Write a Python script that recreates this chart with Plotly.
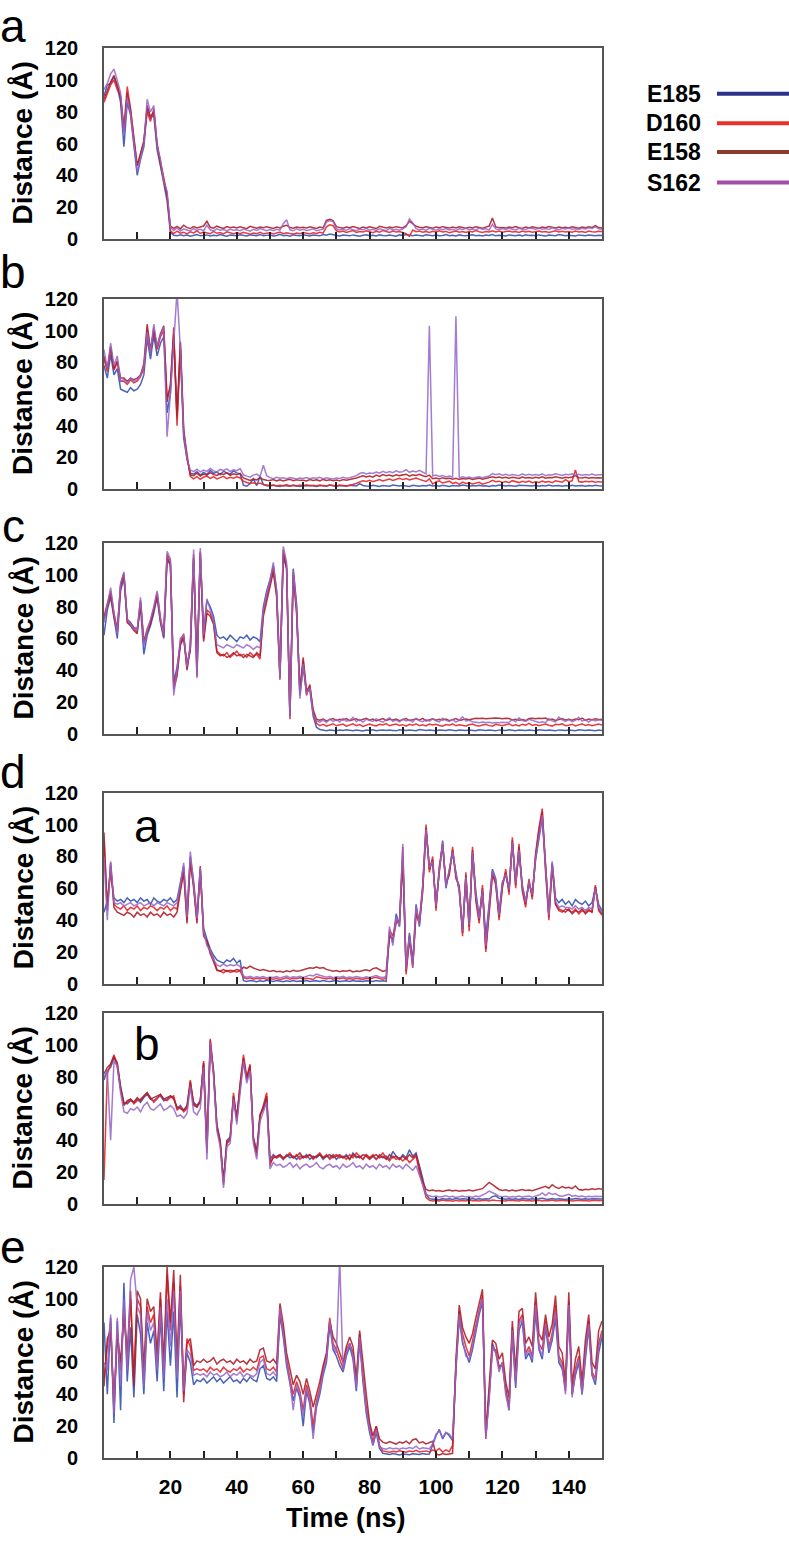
import plotly.graph_objects as go

W, H = 789, 1543

# ---------------- data ----------------
time_ns = list(range(151))
series_names = ["E185", "D160", "E158", "S162"]
y_tick_vals = [0, 20, 40, 60, 80, 100, 120]
x_tick_vals = [10, 20, 30, 40, 50, 60, 70, 80, 90, 100, 110, 120, 130, 140]
x_tick_text = ["", "20", "", "40", "", "60", "", "80", "", "100", "", "120", "", "140"]
panel_letters = ["a", "b", "c", "d", "", "e"]
inner_labels = ["", "", "", "a", "b", ""]

# panel a
a_E185 = [90, 97, 98, 102, 96, 86, 58, 86, 78, 60,
          40, 50, 58, 82, 76, 78, 56, 46, 34, 24,
          4, 2.2, 1.8, 2.5, 1.9, 2.3, 1.6, 2.1, 2.6, 1.8,
          2.0, 2.4, 1.7, 2.2, 1.9, 2.7, 2.0, 1.6, 2.3, 2.1,
          1.8, 2.5, 2.0, 1.7, 2.4, 2.2, 1.9, 2.6, 1.8, 2.1,
          2.3, 1.7, 2.0, 2.8, 1.9, 2.2, 1.6, 2.4, 2.0, 1.8,
          2.5, 2.1, 1.7, 2.3, 2.0, 1.8, 2.6, 2.2, 2.9, 2.4,
          2.0, 1.7, 2.3, 2.1, 1.8, 2.4, 2.0, 1.6, 2.2, 2.5,
          1.9, 2.2, 1.7, 2.4, 2.0, 1.8, 2.3, 2.1, 1.6, 2.4,
          2.0, 2.6, 2.2, 1.8, 2.3, 2.0, 1.7, 2.5, 2.1, 1.9,
          2.3, 1.8, 2.0, 2.6, 1.9, 2.2, 1.7, 2.4, 2.0, 1.8,
          2.2, 2.5, 1.9, 2.1, 1.7, 2.3, 2.0, 2.6, 1.8, 2.2,
          2.0, 1.7, 2.4, 2.1, 1.9, 2.3, 1.8, 2.5, 2.0, 2.2,
          1.8, 2.4, 2.0, 1.7, 2.3, 2.1, 1.9, 2.6, 2.0, 1.8,
          2.2, 2.0, 1.7, 2.4, 2.1, 1.9, 2.3, 2.0, 1.8, 2.2,
          2.0]
a_D160 = [86, 92, 97, 100, 94, 90, 70, 96, 82, 64,
          46, 53, 62, 80, 74, 82, 60, 49, 38, 28,
          5, 3.2, 4.8, 3.5, 4.1, 3.0, 4.4, 3.6, 5.0, 3.3,
          4.2, 3.8, 3.1, 4.6, 3.4, 3.9, 3.0, 4.3, 3.5, 3.2,
          3.8, 3.1, 4.0, 3.3, 2.9, 3.6, 3.2, 4.1, 3.0, 3.4,
          3.7, 3.0, 3.5, 4.2, 3.1, 3.8, 3.3, 2.9, 3.6, 3.2,
          3.9, 3.4, 3.0, 3.7, 3.3, 4.0, 3.5, 7.5, 8.8, 8.2,
          5.0, 4.2, 4.8, 3.9, 4.5, 5.1, 4.0, 4.6, 4.3, 5.0,
          4.4, 3.8, 4.7, 4.1, 5.2, 4.3, 3.9, 4.8, 4.2, 4.6,
          4.0, 3.2, 1.5, 5.5, 4.4, 4.8, 4.1, 4.5, 3.9, 4.7,
          4.3, 5.0, 4.2, 4.6, 3.8, 4.4, 4.9, 4.1, 4.5, 4.0,
          4.7, 4.2, 5.1, 4.4, 3.9, 4.6, 4.2, 5.0, 4.3, 4.8,
          4.1, 4.5, 4.9, 4.2, 4.6, 4.0, 4.8, 4.3, 4.7, 4.1,
          4.5, 4.9, 4.2, 4.6, 4.0, 4.4, 5.0, 4.3, 4.7, 4.2,
          4.6, 4.1, 4.8, 4.3, 4.5, 4.0, 4.9, 4.4, 4.2, 4.7,
          4.5]
a_E158 = [88, 94, 99, 103, 97, 89, 68, 92, 81, 63,
          46, 54, 61, 84, 77, 80, 59, 47, 37, 27,
          8, 6.5, 7.8, 6.2, 8.5, 7.0, 6.4, 7.6, 6.8, 7.3,
          8.0, 11.0, 7.2, 6.6, 7.9, 7.1, 6.5, 7.7, 6.9, 7.4,
          6.8, 7.5, 7.0, 6.3, 7.8, 7.2, 6.6, 7.4, 6.9, 7.6,
          7.1, 6.5, 7.3, 6.8, 7.9, 8.5, 7.0, 6.6, 7.4, 6.9,
          7.2, 6.7, 7.5, 7.0, 6.4, 7.3, 6.8, 11.5, 12.2, 11.4,
          7.6, 7.0, 6.6, 7.4, 6.9, 7.7, 7.1, 6.5, 7.3, 6.8,
          7.5, 7.0, 6.4, 7.8, 7.2, 6.7, 7.4, 6.9, 7.6, 7.1,
          6.8, 8.2, 11.0, 9.5, 7.8, 7.2, 6.9, 7.5, 7.0, 6.6,
          7.3, 6.9, 7.6, 7.1, 6.7, 7.4, 6.8, 7.5, 7.0, 6.6,
          7.2, 6.8, 7.5, 7.0, 6.6, 7.3, 8.0, 13.0, 7.4, 6.9,
          7.1, 6.7, 7.4, 6.9, 7.6, 7.0, 6.5, 7.3, 6.8, 7.5,
          7.0, 6.6, 7.3, 6.9, 7.7, 7.1, 6.7, 7.4, 6.9, 7.2,
          6.8, 7.5, 7.0, 6.6, 7.3, 6.9, 7.6, 7.1, 8.2, 7.0,
          6.8]
a_S162 = [94, 98, 104, 107, 100, 92, 65, 89, 79, 61,
          42, 51, 59, 88, 80, 84, 58, 50, 36, 30,
          7, 5.2, 6.8, 4.8, 6.1, 5.5, 4.9, 6.3, 5.3, 5.9,
          5.0, 8.5, 5.6, 4.9, 6.2, 5.4, 5.8, 5.1, 6.0, 5.3,
          5.7, 5.0, 6.1, 5.4, 4.8, 5.9, 5.2, 6.4, 5.5, 5.0,
          5.8, 5.1, 6.0, 5.4, 9.5, 12.0, 5.6, 5.0, 6.2, 5.3,
          5.9, 5.2, 5.7, 6.3, 5.0, 5.6, 6.0, 10.5, 11.5, 10.8,
          6.2, 5.5, 6.0, 5.3, 6.4, 5.7, 5.1, 6.1, 5.6, 6.6,
          5.4, 6.0, 5.2, 6.3, 5.8, 5.1, 6.5, 5.5, 6.0, 5.3,
          6.2, 7.5, 12.5, 10.0, 6.3, 5.6, 6.1, 5.4, 6.6, 5.9,
          5.3, 6.2, 5.7, 6.4, 5.5, 6.0, 5.2, 6.3, 5.8, 6.5,
          5.6, 6.1, 5.4, 6.7, 5.9, 6.3, 5.5, 9.0, 6.2, 5.7,
          6.4, 5.8, 6.6, 6.0, 5.5, 6.5, 6.1, 5.7, 6.8, 6.2,
          5.9, 6.6, 6.0, 6.4, 5.8, 6.9, 6.2, 5.6, 6.5, 6.1,
          6.7, 6.0, 6.3, 5.8, 6.6, 6.2, 6.9, 6.4, 7.5, 6.3,
          6.0]

# panel b
b_E185 = [78, 70, 85, 72, 76, 63, 62, 61, 64, 62,
          63, 66, 72, 95, 82, 97, 84, 92, 96, 48,
          60, 97, 44, 88, 32, 19, 10, 9.5, 11, 8.8,
          10.5, 9.2, 11.8, 9.9, 10.8, 9.0, 11.2, 10.1, 9.4, 11.5,
          10.2, 9.6, 2.5, 1.8, 3.5, 6.5, 2.2, 8.0, 3.0, 2.1,
          1.9, 2.4, 2.0, 1.7, 2.3, 2.1, 1.8, 2.5, 2.0, 1.6,
          2.2, 1.9, 2.4, 2.0, 1.7, 2.3, 2.1, 1.8, 2.6, 2.0,
          1.7, 2.2, 2.0, 1.8, 2.4, 2.1, 1.9, 3.5, 2.3, 2.0,
          1.8, 2.4, 2.1, 1.7, 2.2, 2.0, 1.8, 2.5, 2.1, 1.9,
          2.3, 2.0, 1.7, 2.4, 2.1, 1.8, 2.2, 2.0, 2.6, 1.9,
          2.2, 1.8, 2.4, 2.0, 1.7, 2.3, 2.1, 1.9, 2.5, 2.0,
          1.8, 2.2, 2.0, 2.4, 1.9, 2.1, 1.7, 2.3, 2.0, 2.5,
          2.1, 1.9, 2.3, 2.0, 1.8, 2.4, 2.2, 1.9, 2.1, 2.0,
          2.4, 1.8, 2.2, 2.0, 2.5, 1.9, 2.1, 2.3, 1.8, 2.2,
          2.0, 2.4, 1.9, 2.1, 2.3, 1.8, 2.2, 2.0, 2.4, 2.1,
          2.0]
b_D160 = [82, 74, 90, 75, 80, 68, 68, 66, 69, 67,
          68, 71, 76, 100, 86, 102, 88, 96, 100, 58,
          64, 102, 40, 92, 36, 22, 8, 6.5, 7.8, 6.2,
          7.5, 8.2, 6.8, 7.9, 6.4, 7.2, 8.0, 6.6, 7.4, 6.9,
          7.7, 7.0, 5.0, 4.2, 3.5, 4.0, 3.2, 3.8, 2.9, 2.6,
          2.2, 2.6, 1.9, 2.4, 2.1, 2.8, 2.0, 2.3, 1.8, 2.5,
          2.1, 2.7, 2.0, 2.4, 1.9, 2.6, 2.2, 2.0, 2.5, 2.3,
          2.0, 2.6, 2.2, 1.9, 2.4, 2.8, 3.5, 4.5, 5.2, 4.8,
          5.5, 4.6, 5.2, 6.0, 5.1, 5.8, 6.4, 5.5, 6.2, 6.8,
          6.0, 6.6, 5.8, 6.3, 7.0, 6.1, 5.6, 4.8, 6.4, 3.2,
          4.5, 5.2, 3.8, 4.6, 5.0, 3.6, 4.2, 3.0, 4.4, 3.5,
          4.0, 3.2, 3.8, 4.3, 3.1, 3.7, 4.4, 5.5, 4.6, 5.0,
          4.2, 4.8, 4.0, 5.3, 4.5, 4.1, 4.9, 4.3, 5.1, 4.0,
          4.6, 4.2, 5.0, 4.4, 4.8, 4.1, 5.2, 4.5, 4.3, 6.0,
          4.7, 5.2, 12.0, 4.8, 4.4, 5.0, 4.6, 4.9, 4.3, 4.7,
          4.5]
b_E158 = [84, 76, 89, 76, 81, 70, 70, 68, 70, 69,
          70, 72, 79, 104, 88, 100, 90, 98, 103, 55,
          66, 98, 46, 93, 38, 20, 9, 8.5, 10.0, 8.2,
          9.5, 8.8, 10.4, 9.1, 8.6, 9.8, 9.2, 10.2, 8.7, 9.6,
          9.0, 9.9, 7.0, 6.2, 5.5, 6.4, 5.8, 7.2, 6.0, 5.6,
          5.4, 6.0, 5.2, 5.8, 5.1, 5.7, 6.2, 5.3, 5.9, 5.5,
          5.6, 5.1, 6.0, 5.4, 5.8, 5.2, 6.1, 5.5, 5.9, 5.3,
          5.7, 5.2, 6.0, 5.6, 5.9, 6.5, 7.0, 7.8, 8.4, 7.6,
          8.2, 7.5, 8.8, 8.0, 9.2, 8.4, 8.9, 8.1, 9.0, 8.5,
          8.8, 9.4, 8.2, 9.0, 8.6, 9.3, 8.4, 7.8, 8.8, 6.5,
          7.0, 6.4, 7.2, 6.6, 6.9, 6.2, 6.8, 6.0, 6.6, 6.3,
          6.8, 6.1, 6.5, 6.9, 6.2, 6.6, 7.0, 7.8, 7.2, 7.6,
          7.0, 7.5, 6.8, 7.4, 7.1, 6.7, 7.6, 7.0, 7.3, 6.9,
          7.4, 7.0, 7.7, 6.8, 7.3, 7.1, 7.8, 7.2, 6.9, 7.5,
          7.1, 7.6, 8.5, 7.2, 7.0, 7.4, 6.9, 7.3, 7.0, 7.2,
          7.0]
b_S162 = [88, 76, 92, 78, 84, 68, 69, 67, 70, 68,
          69, 72, 77, 99, 86, 104, 90, 97, 102, 33,
          60, 96, 125, 88, 35, 19, 12, 11.0, 12.5, 10.8,
          12.0, 11.2, 13.0, 11.5, 10.9, 12.4, 11.8, 12.8, 11.1, 12.2,
          11.6, 12.9, 9.0, 8.2, 7.5, 8.8, 9.5, 8.0, 15.0, 8.4,
          7.2, 6.6, 7.4, 6.8, 7.1, 6.5, 7.3, 6.9, 6.4, 7.0,
          6.7, 7.3, 6.5, 7.1, 6.8, 7.5, 6.6, 7.2, 6.9, 6.4,
          7.0, 6.7, 7.4, 6.8, 7.2, 7.8, 8.5, 9.8, 10.5, 9.6,
          10.2, 9.8, 10.8, 10.1, 11.2, 10.4, 11.0, 10.3, 11.5, 10.7,
          11.0, 12.2, 10.6, 11.4, 10.8, 11.8, 10.5, 9.5, 103.0, 8.2,
          8.8, 7.9, 8.6, 7.6, 8.2, 7.5, 109.0, 7.0, 7.8, 7.2,
          7.6, 6.9, 7.4, 7.8, 7.1, 7.5, 8.2, 9.8, 9.0, 9.6,
          8.8, 9.4, 8.6, 9.2, 8.9, 8.4, 9.6, 8.8, 9.3, 8.7,
          9.2, 8.8, 9.6, 8.5, 9.1, 8.9, 9.7, 9.0, 8.6, 9.4,
          9.0, 9.6, 8.8, 9.3, 8.7, 9.2, 8.9, 9.5, 8.8, 9.1,
          9.0]

# panel c
c_E185 = [62, 78, 86, 73, 60, 90, 98, 72, 70, 67,
          66, 80, 50, 62, 68, 76, 86, 70, 60, 110,
          106, 32, 42, 56, 60, 44, 52, 110, 42, 112,
          64, 84, 80, 74, 62, 60, 61, 59, 62, 60,
          58, 61, 60, 62, 59, 61, 60, 58, 80, 90,
          97, 106, 90, 38, 112, 104, 12, 104, 82, 24,
          42, 26, 28, 11, 4.0, 2.5, 2.1, 1.8, 2.3, 2.0,
          1.7, 2.2, 1.9, 2.4, 2.0, 1.8, 2.3, 2.1, 1.6, 2.2,
          2.0, 2.4, 1.8, 2.1, 2.3, 1.9, 2.2, 2.0, 1.7, 2.4,
          2.1, 1.9, 2.3, 2.0, 1.8, 2.5, 2.1, 1.9, 2.2, 2.0,
          1.8, 2.3, 2.1, 1.9, 2.4, 2.0, 1.7, 2.2, 2.1, 1.9,
          2.3, 2.0, 1.8, 2.4, 2.1, 1.9, 2.2, 2.0, 1.7, 2.3,
          2.1, 1.9, 2.4, 2.0, 1.8, 2.2, 2.1, 1.9, 2.3, 2.0,
          1.8, 2.4, 2.1, 1.9, 2.2, 2.0, 1.7, 2.3, 2.1, 1.9,
          2.2, 2.0, 1.8, 2.4, 2.1, 1.9, 2.3, 2.0, 1.8, 2.2,
          2.0]
c_D160 = [74, 82, 90, 76, 66, 94, 101, 71, 69, 66,
          64, 84, 58, 66, 71, 79, 89, 73, 63, 113,
          109, 30, 38, 58, 63, 41, 56, 113, 38, 115,
          60, 78, 76, 70, 52, 50, 49, 51, 48, 50,
          52, 49, 50, 48, 51, 49, 50, 47, 76, 86,
          94, 104, 88, 36, 116, 106, 9, 101, 78, 26,
          46, 24, 31, 13, 6.5, 5.0, 5.8, 4.6, 5.5, 6.2,
          4.9, 5.6, 6.0, 4.7, 5.3, 6.1, 5.0, 5.7, 4.5, 5.4,
          6.0, 5.2, 4.8, 5.9, 5.4, 6.3, 4.9, 5.5, 6.0, 5.1,
          5.6, 4.7, 5.8, 5.3, 6.2, 5.0, 5.5, 4.8, 6.0, 5.4,
          5.9, 5.1, 4.6, 5.7, 5.2, 6.1, 4.9, 5.6, 5.3, 4.8,
          5.5, 6.0, 5.1, 4.7, 5.4, 5.9, 5.0, 4.6, 5.8, 5.2,
          4.9, 5.6, 6.2, 5.0, 5.5, 4.8, 5.9, 5.3, 6.4, 5.1,
          5.7, 4.9, 5.4, 6.0, 5.2, 4.7, 5.8, 5.5, 6.1, 5.0,
          5.3, 5.9, 4.8, 5.6, 6.2, 5.1, 5.7, 5.0, 5.5, 6.0,
          5.4]
c_E158 = [72, 81, 88, 74, 64, 93, 100, 70, 68, 65,
          63, 83, 57, 64, 69, 78, 87, 71, 61, 111,
          107, 28, 36, 56, 61, 40, 54, 111, 36, 114,
          58, 76, 74, 69, 51, 49, 50, 48, 49, 51,
          49, 50, 48, 50, 49, 48, 51, 49, 74, 84,
          92, 102, 86, 34, 114, 104, 11, 100, 76, 28,
          48, 27, 30, 15, 9.0, 8.4, 9.2, 8.0, 8.8, 9.5,
          8.3, 9.0, 8.6, 9.4, 8.1, 8.9, 9.3, 8.2, 8.7, 9.6,
          8.4, 9.1, 8.0, 8.8, 9.5, 8.3, 9.0, 8.6, 9.2, 8.1,
          8.9, 9.4, 8.2, 8.7, 9.1, 8.5, 9.6, 8.0, 8.8, 9.3,
          8.4, 9.0, 8.6, 9.2, 8.1, 8.9, 9.4, 8.3, 8.8, 9.1,
          8.7, 9.3, 9.6, 9.5, 9.7, 9.4, 9.6, 9.5, 9.8, 9.6,
          9.4, 9.7, 9.5, 8.6, 9.0, 8.4, 8.9, 8.2, 9.5, 9.6,
          9.4, 9.7, 9.5, 9.8, 8.6, 9.1, 8.3, 8.9, 9.4, 8.5,
          9.0, 8.4, 9.2, 8.7, 9.8, 8.3, 9.1, 8.6, 9.3, 8.8,
          9.0]
c_S162 = [70, 80, 92, 76, 63, 95, 102, 72, 69, 66,
          65, 86, 55, 65, 72, 80, 90, 72, 62, 115,
          110, 24, 40, 60, 62, 42, 55, 116, 35, 117,
          62, 85, 78, 71, 56, 55, 54, 56, 55, 54,
          56, 55, 54, 56, 55, 53, 55, 54, 78, 88,
          96, 108, 90, 35, 118, 108, 10, 103, 80, 22,
          44, 25, 29, 12, 8.0, 7.2, 8.5, 7.0, 9.2, 7.6,
          8.8, 7.3, 9.5, 7.8, 8.4, 10.2, 7.5, 8.9, 7.1, 9.0,
          8.2, 7.6, 9.4, 8.0, 7.2, 8.7, 10.0, 7.7, 8.5, 7.4,
          9.1, 7.9, 8.6, 7.3, 9.6, 8.1, 7.5, 8.8, 7.8, 9.2,
          8.0, 7.4, 9.7, 8.3, 7.6, 8.9, 7.2, 8.5, 10.5, 7.9,
          8.4, 7.5, 7.0, 6.8, 7.2, 6.9, 7.1, 6.7, 7.0, 6.8,
          7.1, 6.9, 7.2, 8.8, 7.5, 10.0, 8.2, 7.6, 9.0, 8.4,
          7.8, 7.0, 7.4, 6.9, 9.4, 8.0, 7.3, 10.4, 8.6, 7.7,
          8.9, 7.5, 8.3, 10.2, 7.8, 8.6, 7.2, 9.1, 8.0, 8.7,
          8.2]

# panel d (a)
da_E185 = [45, 52, 70, 54, 52, 53, 51, 54, 52, 53,
           51, 54, 52, 53, 50, 54, 52, 51, 53, 52,
           54, 51, 53, 64, 74, 44, 80, 64, 42, 72,
           35, 28, 22, 18, 15, 14, 13, 15, 14, 16,
           13, 15, 2.0, 1.5, 2.2, 1.8, 1.4, 2.0, 1.6, 2.3,
           1.7, 1.5, 2.1, 1.8, 1.4, 2.0, 1.6, 2.2, 1.5, 1.9,
           1.7, 2.1, 1.5, 1.8, 2.0, 1.6, 2.2, 1.7, 1.5, 1.9,
           2.1, 1.6, 1.8, 2.0, 1.5, 2.2, 1.7, 1.9, 1.6, 2.0,
           1.8, 1.5, 2.1, 1.7, 2.0, 1.6, 32, 26, 44, 36,
           80, 10, 32, 14, 50, 36, 60, 96, 74, 76,
           50, 70, 90, 60, 72, 82, 70, 58, 34, 66,
           38, 82, 58, 42, 58, 30, 50, 72, 66, 44,
           64, 68, 60, 88, 64, 82, 62, 52, 63, 57,
           78, 92, 104, 74, 44, 76, 54, 51, 53, 50,
           52, 49, 53, 51, 50, 52, 49, 51, 60, 50,
           46]
da_D160 = [90, 48, 74, 50, 48, 47, 49, 46, 48, 47,
           49, 46, 48, 47, 49, 48, 46, 48, 47, 49,
           46, 48, 47, 60, 72, 40, 76, 62, 40, 70,
           32, 26, 20, 16, 9, 8, 7, 8.5, 7.2, 8.0,
           7.5, 8.2, 4.0, 3.2, 3.8, 2.9, 3.5, 3.1, 3.7, 2.8,
           3.4, 3.0, 3.6, 2.7, 3.3, 3.9, 2.9, 3.5, 3.2, 3.8,
           3.0, 3.6, 3.3, 2.8, 4.5, 4.0, 3.4, 3.1, 3.7, 2.9,
           3.5, 3.2, 3.8, 2.9, 3.4, 3.0, 3.6, 3.3, 2.8, 3.5,
           3.1, 3.7, 4.2, 3.4, 3.0, 3.6, 34, 30, 40, 38,
           86, 6, 28, 10, 46, 40, 62, 100, 70, 80,
           46, 74, 86, 64, 68, 86, 66, 62, 30, 70,
           33, 86, 52, 38, 62, 20, 46, 68, 64, 40,
           60, 72, 56, 92, 60, 88, 58, 48, 66, 53,
           82, 98, 110, 70, 40, 74, 50, 46, 45, 47,
           46, 45, 47, 44, 46, 45, 47, 45, 62, 46,
           43]
da_E158 = [95, 46, 76, 48, 45, 44, 43, 45, 44, 42,
           45, 43, 44, 42, 45, 43, 44, 42, 45, 43,
           44, 42, 45, 58, 70, 38, 78, 60, 38, 74,
           30, 27, 19, 14, 8.5, 8.0, 9.0, 7.8, 8.6, 8.2,
           9.0, 8.4, 10.5, 9.8, 11.2, 10.0, 9.2, 8.5, 9.0, 8.2,
           7.8, 8.4, 7.6, 8.0, 7.4, 8.2, 7.7, 8.5, 7.9, 8.3,
           8.8, 9.5, 10.2, 9.8, 10.6, 9.9, 10.3, 9.1, 8.6, 8.0,
           8.4, 7.7, 8.2, 7.9, 8.6, 7.5, 8.1, 7.8, 8.4, 8.9,
           8.2, 9.6, 10.1, 8.8, 7.9, 8.5, 30, 28, 38, 40,
           78, 8, 30, 12, 44, 38, 58, 98, 72, 78,
           48, 72, 88, 62, 70, 84, 68, 60, 32, 68,
           36, 84, 54, 40, 60, 22, 48, 70, 62, 42,
           62, 70, 58, 90, 62, 86, 60, 50, 64, 55,
           80, 96, 108, 72, 42, 75, 50, 47, 46, 45,
           47, 44, 46, 45, 47, 44, 46, 45, 61, 47,
           44]
da_S162 = [80, 40, 77, 51, 50, 51, 49, 50, 51, 49,
           50, 51, 49, 50, 51, 49, 51, 50, 49, 51,
           50, 49, 51, 62, 76, 42, 83, 63, 41, 73,
           33, 24, 21, 15, 12, 11, 12.5, 11.2, 12.0, 11.5,
           12.2, 11.0, 5.0, 4.2, 4.8, 3.9, 4.5, 4.1, 4.7, 3.8,
           4.4, 4.0, 4.6, 3.7, 4.3, 4.9, 3.9, 4.5, 4.2, 4.8,
           4.1, 4.7, 5.5, 5.0, 6.2, 5.4, 4.6, 4.2, 4.8, 3.9,
           4.5, 4.2, 4.8, 3.9, 4.4, 4.0, 4.6, 4.3, 3.8, 4.5,
           4.1, 4.7, 5.2, 4.4, 4.0, 4.6, 36, 24, 42, 36,
           88, 9, 31, 11, 49, 37, 61, 97, 73, 77,
           49, 71, 89, 61, 71, 83, 69, 59, 33, 67,
           37, 83, 56, 41, 59, 24, 49, 71, 65, 43,
           63, 69, 59, 89, 63, 84, 61, 51, 64, 56,
           79, 94, 106, 73, 43, 77, 52, 48, 49, 48,
           48, 47, 49, 47, 48, 46, 48, 47, 60, 48,
           45]

# panel d (b)
db_E185 = [78, 84, 86, 92, 88, 74, 64, 63, 65, 64,
           66, 64, 67, 69, 66, 65, 67, 68, 65, 66,
           68, 67, 60, 62, 59, 61, 74, 64, 62, 65,
           88, 34, 100, 84, 50, 40, 14, 40, 42, 66,
           55, 74, 90, 78, 86, 42, 33, 56, 60, 66,
           28, 31, 29, 30, 28, 31, 29, 30, 28, 30,
           29, 31, 28, 30, 29, 31, 28, 30, 29, 31,
           28, 30, 29, 31, 28, 32, 29, 30, 28, 31,
           29, 30, 28, 31, 29, 30, 28, 33, 30, 28,
           31, 29, 34, 30, 32, 24, 16, 6, 3.2, 2.8,
           3.0, 2.6, 3.3, 2.9, 3.1, 2.7, 3.4, 2.8, 3.2, 3.0,
           2.7, 3.3, 2.9, 3.1, 2.8, 3.2, 3.0, 4.5, 5.0, 3.4,
           3.0, 2.8, 3.2, 2.9, 3.1, 2.7, 3.3, 3.0, 2.8, 3.2,
           2.9, 3.1, 3.4, 3.0, 2.8, 3.3, 2.9, 3.2, 3.0, 2.7,
           3.1, 2.9, 3.3, 3.0, 2.8, 3.2, 2.9, 3.1, 3.0, 2.8,
           3.0]
db_D160 = [15, 82, 88, 94, 86, 72, 63, 64, 66, 63,
           65, 66, 68, 70, 67, 64, 66, 69, 66, 65,
           67, 68, 59, 61, 58, 60, 78, 62, 61, 64,
           90, 32, 104, 82, 48, 38, 12, 38, 40, 70,
           52, 76, 94, 80, 88, 40, 30, 55, 62, 70,
           24, 30, 29, 31, 28, 30, 32, 29, 31, 28,
           30, 29, 31, 28, 30, 32, 29, 31, 28, 30,
           31, 29, 30, 28, 31, 29, 32, 30, 28, 31,
           29, 31, 28, 30, 32, 29, 27, 30, 28, 29,
           27, 29, 26, 28, 30, 20, 12, 4, 2.2, 1.8,
           2.0, 1.7, 2.3, 1.9, 2.1, 1.6, 2.2, 1.8, 2.0, 1.7,
           2.3, 1.9, 2.1, 1.8, 2.0, 2.2, 1.7, 2.4, 2.0, 1.9,
           2.1, 1.8, 2.2, 1.9, 2.0, 1.7, 2.3, 1.9, 2.1, 1.8,
           2.0, 2.2, 1.8, 2.1, 1.9, 2.3, 1.7, 2.0, 2.2, 1.9,
           2.1, 1.8, 2.0, 2.2, 1.9, 2.1, 1.7, 2.0, 2.2, 1.9,
           2.0]
db_E158 = [82, 86, 88, 93, 89, 73, 62, 65, 66, 64,
           67, 65, 68, 70, 66, 67, 68, 69, 66, 67,
           68, 66, 61, 60, 59, 62, 77, 63, 61, 65,
           89, 35, 103, 83, 49, 39, 14, 39, 41, 68,
           54, 75, 92, 79, 87, 41, 32, 56, 61, 68,
           26, 29, 30, 31, 29, 30, 31, 29, 30, 32,
           29, 30, 31, 29, 30, 31, 29, 30, 31, 29,
           30, 31, 29, 30, 28, 31, 30, 29, 31, 30,
           28, 30, 31, 29, 30, 28, 31, 29, 30, 28,
           30, 28, 31, 29, 31, 22, 14, 9, 8.2, 8.6,
           8.0, 8.4, 7.8, 8.3, 8.7, 8.1, 8.5, 7.9, 8.4, 8.2,
           8.6, 8.0, 8.5, 8.9, 9.5, 11.5, 13.5, 12.0, 10.2, 9.0,
           8.4, 8.8, 8.1, 8.6, 8.0, 8.5, 8.9, 8.3, 8.7, 8.2,
           8.8, 9.5, 10.2, 11.0, 9.8, 12.0, 10.5, 9.6, 10.8, 9.9,
           10.4, 9.5, 11.2, 9.0, 8.6, 9.2, 8.8, 9.4, 9.0, 9.6,
           9.2]
db_S162 = [80, 84, 40, 90, 87, 70, 58, 57, 60, 59,
           61, 58, 62, 64, 60, 59, 61, 63, 59, 60,
           62, 60, 55, 56, 54, 57, 74, 58, 56, 60,
           86, 28, 102, 80, 46, 36, 10, 36, 38, 66,
           50, 72, 90, 76, 84, 38, 28, 52, 58, 64,
           22, 26, 24, 25, 23, 24, 26, 23, 25, 22,
           24, 25, 23, 24, 26, 23, 22, 24, 25, 23,
           24, 22, 25, 23, 24, 26, 23, 24, 22, 25,
           23, 24, 22, 25, 23, 24, 22, 25, 23, 24,
           22, 25, 23, 21, 24, 18, 11, 6, 5.0, 4.4,
           4.8, 4.2, 4.6, 5.1, 4.3, 4.7, 4.0, 4.5, 4.9, 4.2,
           4.6, 4.1, 4.8, 4.4, 5.2, 6.5, 8.0, 7.2, 6.0, 4.8,
           4.4, 4.7, 4.1, 4.6, 4.3, 4.9, 4.2, 4.5, 4.8, 4.1,
           4.6, 5.5, 6.8, 5.2, 7.0, 5.8, 6.4, 5.0, 4.7, 5.6,
           6.0, 4.8, 5.2, 4.5, 4.9, 4.3, 4.7, 4.4, 4.8, 4.5,
           4.6]

# panel e
e_E185 = [85, 40, 88, 22, 86, 30, 110, 48, 82, 38,
          90, 78, 40, 85, 72, 80, 48, 90, 42, 92,
          58, 92, 38, 98, 40, 66, 60, 46, 49, 48,
          50, 47, 49, 51, 48, 50, 47, 49, 51, 48,
          49, 47, 50, 48, 51, 49, 48, 56, 58, 50,
          49, 51, 48, 90, 76, 58, 46, 36, 44, 38,
          20, 42, 34, 16, 32, 40, 52, 60, 84, 68,
          64, 58, 54, 64, 70, 62, 42, 74, 48, 28,
          16, 8, 16, 6, 3.0, 2.5, 2.2, 2.8, 2.4, 2.0,
          2.6, 2.3, 2.1, 2.7, 2.5, 2.2, 2.9, 2.4, 2.6, 8.0,
          14, 18, 12, 16, 14, 11, 55, 88, 72, 66,
          60, 68, 80, 90, 98, 14, 38, 72, 66, 58,
          58, 44, 30, 78, 44, 80, 86, 62, 66, 60,
          92, 68, 62, 82, 66, 74, 88, 60, 56, 44,
          92, 40, 52, 60, 40, 62, 82, 52, 46, 66,
          76]
e_D160 = [50, 70, 85, 30, 80, 55, 95, 60, 100, 50,
          100, 95, 50, 95, 85, 90, 60, 100, 55, 115,
          80, 110, 55, 108, 45, 75, 70, 55, 56, 55,
          56, 54, 57, 55, 56, 54, 57, 55, 54, 56,
          55, 57, 54, 56, 55, 57, 55, 63, 64, 56,
          55, 57, 54, 92, 80, 62, 50, 40, 48, 42,
          30, 46, 38, 20, 36, 44, 56, 64, 88, 72,
          68, 62, 56, 68, 72, 66, 46, 78, 52, 32,
          20, 10, 20, 8, 4.5, 4.0, 3.6, 4.3, 3.9, 4.6,
          4.1, 3.7, 4.4, 4.0, 4.8, 3.8, 4.2, 4.5, 3.9, 5.0,
          4.5, 6.0, 3.8, 5.2, 4.0, 8.0, 58, 92, 78, 70,
          64, 74, 84, 94, 102, 12, 40, 68, 68, 56,
          60, 42, 32, 82, 48, 86, 90, 66, 70, 64,
          98, 72, 68, 86, 70, 78, 96, 64, 60, 42,
          98, 40, 56, 64, 42, 68, 86, 54, 50, 72,
          80]
e_E158 = [45, 75, 80, 35, 78, 60, 90, 65, 105, 45,
          105, 100, 55, 100, 92, 95, 65, 104, 60, 120,
          85, 118, 60, 115, 35, 72, 75, 58, 61, 60,
          62, 60, 61, 63, 59, 61, 62, 60, 61, 59,
          62, 60, 61, 59, 62, 60, 61, 68, 69, 61,
          60, 62, 59, 97, 84, 66, 56, 46, 52, 48,
          40, 50, 42, 32, 40, 48, 58, 66, 86, 76,
          72, 66, 60, 70, 76, 70, 50, 80, 58, 40,
          22, 14, 20, 12, 10.0, 9.2, 10.4, 9.6, 8.8, 10.1,
          9.4, 10.6, 9.0, 11.5, 12.0, 9.5, 10.2, 8.9, 9.8, 10.5,
          2.5, 2.0, 2.8, 2.2, 2.6, 3.0, 62, 96, 82, 76,
          72, 78, 88, 98, 106, 16, 46, 74, 72, 62,
          66, 48, 38, 86, 54, 92, 94, 72, 76, 70,
          104, 78, 74, 90, 76, 84, 102, 70, 66, 48,
          104, 46, 62, 70, 48, 74, 90, 60, 56, 80,
          86]
e_S162 = [60, 55, 90, 28, 88, 45, 100, 55, 112, 120,
          95, 90, 45, 92, 80, 85, 55, 95, 50, 100,
          70, 105, 50, 105, 42, 68, 65, 52, 53, 52,
          53, 51, 54, 52, 53, 51, 52, 54, 51, 53,
          52, 54, 51, 53, 52, 51, 53, 60, 62, 53,
          52, 54, 51, 94, 78, 60, 48, 30, 46, 40,
          26, 44, 36, 12, 34, 42, 54, 62, 86, 70,
          66, 125, 55, 66, 72, 64, 44, 76, 50, 30,
          18, 8, 18, 7, 6.0, 5.5, 6.4, 5.8, 6.2, 5.6,
          6.3, 5.9, 6.6, 6.0, 7.5, 5.7, 6.4, 6.1, 5.8, 9.0,
          15, 17, 13, 16, 15, 12, 57, 90, 74, 64,
          62, 70, 82, 92, 100, 13, 36, 70, 66, 54,
          60, 40, 30, 80, 46, 84, 88, 64, 68, 62,
          96, 70, 64, 84, 68, 76, 92, 62, 58, 40,
          96, 38, 54, 62, 40, 66, 84, 52, 48, 70,
          78]

panel_data = [
    [a_E185, a_D160, a_E158, a_S162],
    [b_E185, b_D160, b_E158, b_S162],
    [c_E185, c_D160, c_E158, c_S162],
    [da_E185, da_D160, da_E158, da_S162],
    [db_E185, db_D160, db_E158, db_S162],
    [e_E185, e_D160, e_E158, e_S162],
]

# ---------------- styling / layout ----------------
trace_colors = ["#3553b4", "#e8262a", "#b0202a", "#9565c8"]
trace_opac = [0.9, 0.9, 0.9, 0.85]
legend_colors = ["#2b3287", "#e8302a", "#8b3a2c", "#a54ca9"]

# panel plot-area pixel extents (top, bottom)
panel_px = [(38, 231), (292, 485), (540, 733), (793, 987), (1017, 1210), (1274, 1468)]
letter_mid_px = [15, 265, 522, 772, None, 1254]
inner_mid_px = [None, None, None, 827, 1048, None]
X_LEFT, X_RIGHT = 104, 602

def px_x(px):
    return px / W

def px_y(py):
    return 1 - py / H

FONT = "Liberation Sans, Arial, sans-serif"

fig = go.Figure()
layout = dict(
    width=W, height=H,
    margin=dict(l=0, r=0, t=0, b=0),
    paper_bgcolor="white", plot_bgcolor="white",
    showlegend=False,
)

annotations = []
shapes = []

for i, (top, bot) in enumerate(panel_px):
    k = i + 1
    xa = "x" if k == 1 else f"x{k}"
    ya = "y" if k == 1 else f"y{k}"
    last = (i == len(panel_px) - 1)
    layout[f"xaxis{'' if k == 1 else k}"] = dict(
        domain=[px_x(X_LEFT), px_x(X_RIGHT)], anchor=ya, range=[0, 150],
        showline=True, linecolor="#555555", linewidth=1.6, mirror=True,
        showgrid=False, zeroline=False,
        ticks="inside", ticklen=7, tickwidth=1.5, tickcolor="#222222",
        tickvals=x_tick_vals, ticktext=x_tick_text,
        showticklabels=last, ticklabelstandoff=9,
        tickfont=dict(family=FONT, size=21, color="black", weight="bold"),
    )
    layout[f"yaxis{'' if k == 1 else k}"] = dict(
        domain=[px_y(bot), px_y(top)], anchor=xa, range=[0, 120],
        showline=True, linecolor="#555555", linewidth=1.6, mirror=True,
        showgrid=False, zeroline=False, ticks="",
        tickvals=y_tick_vals, ticklabelstandoff=20,
        tickfont=dict(family=FONT, size=20, color="black", weight="bold"),
    )
    for s, name in enumerate(series_names):
        vals = panel_data[i][s]
        fig.add_trace(go.Scatter(
            x=time_ns[:len(vals)], y=vals, mode="lines", name=name,
            line=dict(color=trace_colors[s], width=1.5),
            opacity=trace_opac[s], xaxis=xa, yaxis=ya, hoverinfo="skip",
        ))
    # y title
    annotations.append(dict(
        text="Distance (Å)", xref="paper", yref="paper",
        x=px_x(23), y=px_y((top + bot) / 2), xanchor="center", yanchor="middle",
        textangle=-90, showarrow=False,
        font=dict(family=FONT, size=28, color="black", weight="bold"),
    ))
    if panel_letters[i]:
        annotations.append(dict(
            text=panel_letters[i], xref="paper", yref="paper",
            x=px_x(13), y=px_y(letter_mid_px[i]), xanchor="center", yanchor="middle",
            showarrow=False, font=dict(family=FONT, size=46, color="black"),
        ))
    if inner_labels[i]:
        annotations.append(dict(
            text=inner_labels[i], xref="paper", yref="paper",
            x=px_x(147), y=px_y(inner_mid_px[i]), xanchor="center", yanchor="middle",
            showarrow=False, font=dict(family=FONT, size=46, color="black"),
        ))

# x title
annotations.append(dict(
    text="Time (ns)", xref="paper", yref="paper",
    x=px_x(346), y=px_y(1529), xanchor="center", yanchor="middle",
    showarrow=False, font=dict(family=FONT, size=27, color="black", weight="bold"),
))

# legend (text left, line right)
legend_y = [84, 114, 143, 174]
for s, name in enumerate(series_names):
    annotations.append(dict(
        text=name, xref="paper", yref="paper",
        x=px_x(703), y=px_y(legend_y[s]), xanchor="right", yanchor="middle",
        showarrow=False, font=dict(family=FONT, size=23, color="black", weight="bold"),
    ))
    shapes.append(dict(
        type="line", xref="paper", yref="paper",
        x0=px_x(717), x1=1.0, y0=px_y(legend_y[s]), y1=px_y(legend_y[s]),
        line=dict(color=legend_colors[s], width=4),
    ))

layout["annotations"] = annotations
layout["shapes"] = shapes
fig.update_layout(**layout)

fig.write_html("out.html", config={"displayModeBar": False},
               post_script="document.body.style.margin='0';document.body.style.overflow='hidden';")
